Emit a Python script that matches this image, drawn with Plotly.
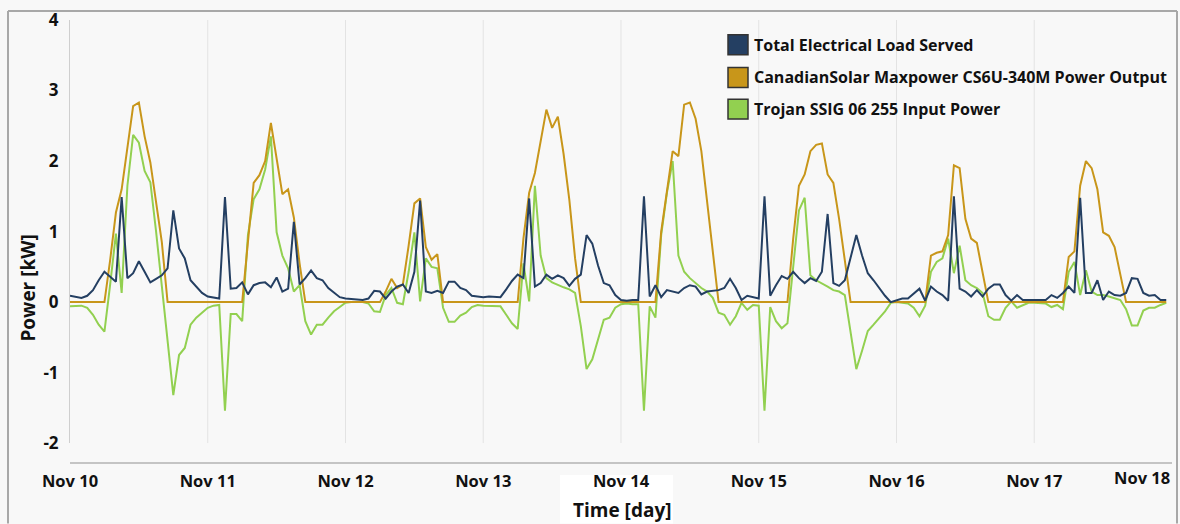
import pandas as pd
import plotly.graph_objects as go

# ---------------- data (hourly, Nov 10 00:00 .. Nov 17 23:00) ----------------
start = "2019-11-10 00:00"
hours = pd.date_range(start, periods=192, freq="h")

load_kw = [
    0.09, 0.07, 0.06, 0.09, 0.17, 0.31, 0.43, 0.36, 0.29, 1.49, 0.34, 0.41, 0.58, 0.43, 0.28, 0.33, 0.38, 0.48, 1.30, 0.76, 0.62, 0.31, 0.22, 0.13,
    0.08, 0.06, 0.05, 1.49, 0.19, 0.20, 0.28, 0.11, 0.24, 0.27, 0.28, 0.21, 0.35, 0.15, 0.19, 1.14, 0.25, 0.34, 0.45, 0.34, 0.31, 0.20, 0.13, 0.07,
    0.05, 0.04, 0.03, 0.03, 0.05, 0.16, 0.15, 0.05, 0.15, 0.22, 0.25, 0.13, 0.43, 1.44, 0.15, 0.13, 0.16, 0.13, 0.29, 0.29, 0.20, 0.17, 0.09, 0.08,
    0.07, 0.08, 0.08, 0.07, 0.18, 0.30, 0.39, 0.34, 1.47, 0.22, 0.27, 0.39, 0.33, 0.38, 0.34, 0.23, 0.33, 0.39, 0.95, 0.83, 0.52, 0.27, 0.24, 0.10,
    0.03, 0.02, 0.03, 0.03, 1.50, 0.08, 0.24, 0.07, 0.17, 0.15, 0.13, 0.20, 0.24, 0.22, 0.11, 0.15, 0.16, 0.17, 0.20, 0.33, 0.20, 0.03, 0.09, 0.07,
    0.05, 1.50, 0.09, 0.24, 0.37, 0.33, 0.43, 0.34, 0.27, 0.34, 0.30, 0.43, 1.25, 0.27, 0.23, 0.31, 0.62, 0.95, 0.66, 0.41, 0.31, 0.20, 0.09, 0.00,
    0.03, 0.05, 0.05, 0.12, 0.19, 0.02, 0.22, 0.15, 0.10, 0.02, 1.50, 0.19, 0.15, 0.08, 0.17, 0.08, 0.19, 0.25, 0.25, 0.10, 0.02, 0.10, 0.03, 0.03,
    0.03, 0.03, 0.03, 0.10, 0.06, 0.13, 0.22, 0.13, 1.48, 0.13, 0.13, 0.31, 0.03, 0.15, 0.10, 0.09, 0.13, 0.34, 0.33, 0.13, 0.09, 0.10, 0.03, 0.03,
]

pv_kw = [
    0, 0, 0, 0, 0, 0, 0, 0.60, 1.27, 1.60, 2.20, 2.78, 2.83, 2.35, 1.98, 1.41, 0.85, 0, 0, 0, 0, 0, 0, 0,
    0, 0, 0, 0, 0, 0, 0, 0.85, 1.69, 1.80, 2.00, 2.54, 2.05, 1.53, 1.60, 1.20, 0.55, 0, 0, 0, 0, 0, 0, 0,
    0, 0, 0, 0, 0, 0, 0, 0.15, 0.33, 0.20, 0.25, 0.80, 1.40, 1.47, 0.78, 0.60, 0.68, 0, 0, 0, 0, 0, 0, 0,
    0, 0, 0, 0, 0, 0, 0, 0.90, 1.55, 1.83, 2.30, 2.73, 2.47, 2.63, 2.10, 1.45, 0.62, 0, 0, 0, 0, 0, 0, 0,
    0, 0, 0, 0, 0, 0, 0, 1.00, 1.60, 2.14, 2.07, 2.80, 2.83, 2.60, 2.14, 1.41, 0.71, 0, 0, 0, 0, 0, 0, 0,
    0, 0, 0, 0, 0, 0, 0.90, 1.65, 1.81, 2.14, 2.23, 2.25, 1.81, 1.69, 1.18, 0.62, 0, 0, 0, 0, 0, 0, 0, 0,
    0, 0, 0, 0, 0, 0, 0.66, 0.70, 0.72, 0.95, 1.94, 1.90, 1.18, 0.90, 0.84, 0.43, 0, 0, 0, 0, 0, 0, 0, 0,
    0, 0, 0, 0, 0, 0, 0.64, 0.72, 1.65, 2.00, 1.90, 1.60, 0.99, 0.94, 0.78, 0.38, 0, 0, 0, 0, 0, 0, 0, 0,
]

battery_kw = [
    -0.06, -0.05, -0.05, -0.08, -0.18, -0.32, -0.42, 0.25, 0.97, 0.13, 1.65, 2.37, 2.26, 1.86, 1.70, 1.00, 0.20, -0.60, -1.32, -0.75, -0.65, -0.32, -0.22, -0.15,
    -0.08, -0.05, -0.04, -1.54, -0.17, -0.17, -0.27, 0.95, 1.46, 1.60, 1.88, 2.35, 0.99, 0.66, 0.48, 0.15, 0.24, -0.27, -0.46, -0.32, -0.32, -0.22, -0.13, -0.07,
    -0.01, 0.00, 0.00, 0.00, -0.02, -0.13, -0.14, 0.10, 0.20, -0.01, -0.03, 0.43, 0.99, 0.01, 0.62, 0.50, 0.48, -0.08, -0.28, -0.28, -0.19, -0.15, -0.07, -0.04,
    -0.05, -0.05, -0.05, -0.06, -0.18, -0.30, -0.38, 0.55, 0.01, 1.65, 0.66, 0.34, 0.28, 0.24, 0.21, 0.18, 0.13, -0.34, -0.95, -0.81, -0.53, -0.25, -0.22, -0.08,
    -0.03, -0.02, -0.03, -0.03, -1.54, -0.06, -0.22, 0.95, 1.55, 2.00, 0.66, 0.43, 0.34, 0.27, 0.20, 0.15, 0.06, -0.15, -0.18, -0.32, -0.20, -0.01, -0.11, -0.04,
    -0.05, -1.54, -0.07, -0.27, -0.37, -0.30, 0.48, 1.30, 1.48, 0.38, 0.31, 0.27, 0.22, 0.17, 0.15, 0.10, -0.46, -0.95, -0.69, -0.41, -0.32, -0.22, -0.13, -0.01,
    0.00, -0.01, -0.02, -0.08, -0.20, -0.05, 0.43, 0.57, 0.62, 0.90, 0.41, 0.80, 0.31, 0.24, 0.20, 0.13, -0.20, -0.25, -0.25, -0.08, 0.01, -0.08, -0.04, -0.01,
    -0.01, -0.01, -0.02, -0.07, -0.04, -0.10, 0.43, 0.57, 0.10, 0.45, 0.15, 0.10, 0.10, 0.08, 0.05, 0.03, -0.10, -0.33, -0.33, -0.12, -0.08, -0.08, -0.04, -0.01,
]

series_names = [
    "Total Electrical Load Served",
    "CanadianSolar Maxpower CS6U-340M Power Output",
    "Trojan SSIG 06 255 Input Power",
]
series_colors = ["#243f62", "#c8961a", "#92d050"]

day_ticks = pd.date_range("2019-11-10", periods=9, freq="D")
y_ticks = [-2, -1, 0, 1, 2, 3, 4]

# ---------------- layout geometry (pixels) ----------------
W, H = 1180, 524
L, R, T, B = 70, 8, 16, 61
PW, PH = W - L - R, H - T - B
ybot_px = 443  # pixel row of y = -2


def px(xp):
    return (xp - L) / PW


def py(yp):
    return (H - B - yp) / PH


FONT = "Open Sans"
BG = "#f8f8f8"
TXT = "#111111"

fig = go.Figure()
# draw order: battery, PV, load on top
for vals, name, col in [
    (battery_kw, series_names[2], series_colors[2]),
    (pv_kw, series_names[1], series_colors[1]),
    (load_kw, series_names[0], series_colors[0]),
]:
    fig.add_trace(go.Scatter(x=hours, y=vals, mode="lines", name=name,
                             line=dict(color=col, width=2), showlegend=False))

shapes = []
# white patch behind x-axis title
shapes.append(dict(type="rect", xref="paper", yref="paper", x0=px(560), x1=px(673),
                   y0=py(524), y1=py(475), fillcolor="white", line=dict(width=0), layer="below"))
# vertical day gridlines
for d in day_ticks[1:8]:
    shapes.append(dict(type="line", xref="x", yref="y", x0=d, x1=d, y0=-2, y1=4,
                       line=dict(color="#e3e3e3", width=1), layer="below"))
# outer frame (left, top, right)
frame = dict(color="#a8a8a8", width=2)
shapes.append(dict(type="line", xref="paper", yref="paper", x0=px(8), x1=px(8), y0=py(524), y1=py(7), line=frame))
shapes.append(dict(type="line", xref="paper", yref="paper", x0=px(8), x1=px(1177), y0=py(7), y1=py(7), line=frame))
shapes.append(dict(type="line", xref="paper", yref="paper", x0=px(1177), x1=px(1177), y0=py(524), y1=py(7), line=frame))

annotations = []
# legend (boxes + labels)
leg_rows = [41, 74, 106]
for yc, name, col in zip(leg_rows, series_names, series_colors):
    shapes.append(dict(type="rect", xref="paper", yref="paper", x0=px(728), x1=px(748),
                       y0=py(yc + 10), y1=py(yc - 10), fillcolor=col,
                       line=dict(color="#333333", width=1.5)))
    annotations.append(dict(xref="paper", yref="paper", x=px(752), y=py(yc), text="<b>%s</b>" % name,
                            showarrow=False, xanchor="left", yanchor="middle",
                            font=dict(family=FONT, size=16, color=TXT)))

# axis titles
annotations.append(dict(xref="paper", yref="paper", x=px(28), y=py(287), text="<b>Power [kW]</b>",
                        textangle=-90, showarrow=False, xanchor="center", yanchor="middle",
                        font=dict(family=FONT, size=19, color=TXT)))
annotations.append(dict(xref="paper", yref="paper", x=px(622), y=py(510), text="<b>Time [day]</b>",
                        showarrow=False, xanchor="center", yanchor="middle",
                        font=dict(family=FONT, size=19, color=TXT)))
# last date label, right aligned at the plot edge
annotations.append(dict(xref="x", yref="paper", x=day_ticks[8], y=py(478),
                        text="<b>%s</b>" % day_ticks[8].strftime("%b %d"),
                        showarrow=False, xanchor="right", yanchor="middle",
                        font=dict(family=FONT, size=16.5, color=TXT)))

fig.update_layout(
    width=W, height=H,
    margin=dict(l=L, r=R, t=T, b=B, pad=0),
    paper_bgcolor=BG, plot_bgcolor=BG,
    font=dict(family=FONT, size=16, color=TXT),
    shapes=shapes, annotations=annotations,
    showlegend=False,
)

fig.update_xaxes(
    type="date", range=[day_ticks[0], day_ticks[8]],
    anchor="free", position=0,
    tickvals=list(day_ticks[:8]),
    ticktext=["<b>%s</b>" % d.strftime("%b %d") for d in day_ticks[:8]],
    showgrid=False, zeroline=False,
    showline=True, linecolor="#c4c4c4", linewidth=2,
    ticks="", ticklabelstandoff=3,
    tickfont=dict(family=FONT, size=16.5, color=TXT),
)
fig.update_yaxes(
    range=[-2, 4], domain=[py(ybot_px), 1],
    tickvals=y_ticks, ticktext=["<b>%d</b>" % v for v in y_ticks],
    showgrid=False, zeroline=False,
    showline=True, linecolor="#cfcfcf", linewidth=1,
    ticks="", ticklabelstandoff=7,
    tickfont=dict(family=FONT, size=17, color=TXT),
)

fig.write_html("out.html")
